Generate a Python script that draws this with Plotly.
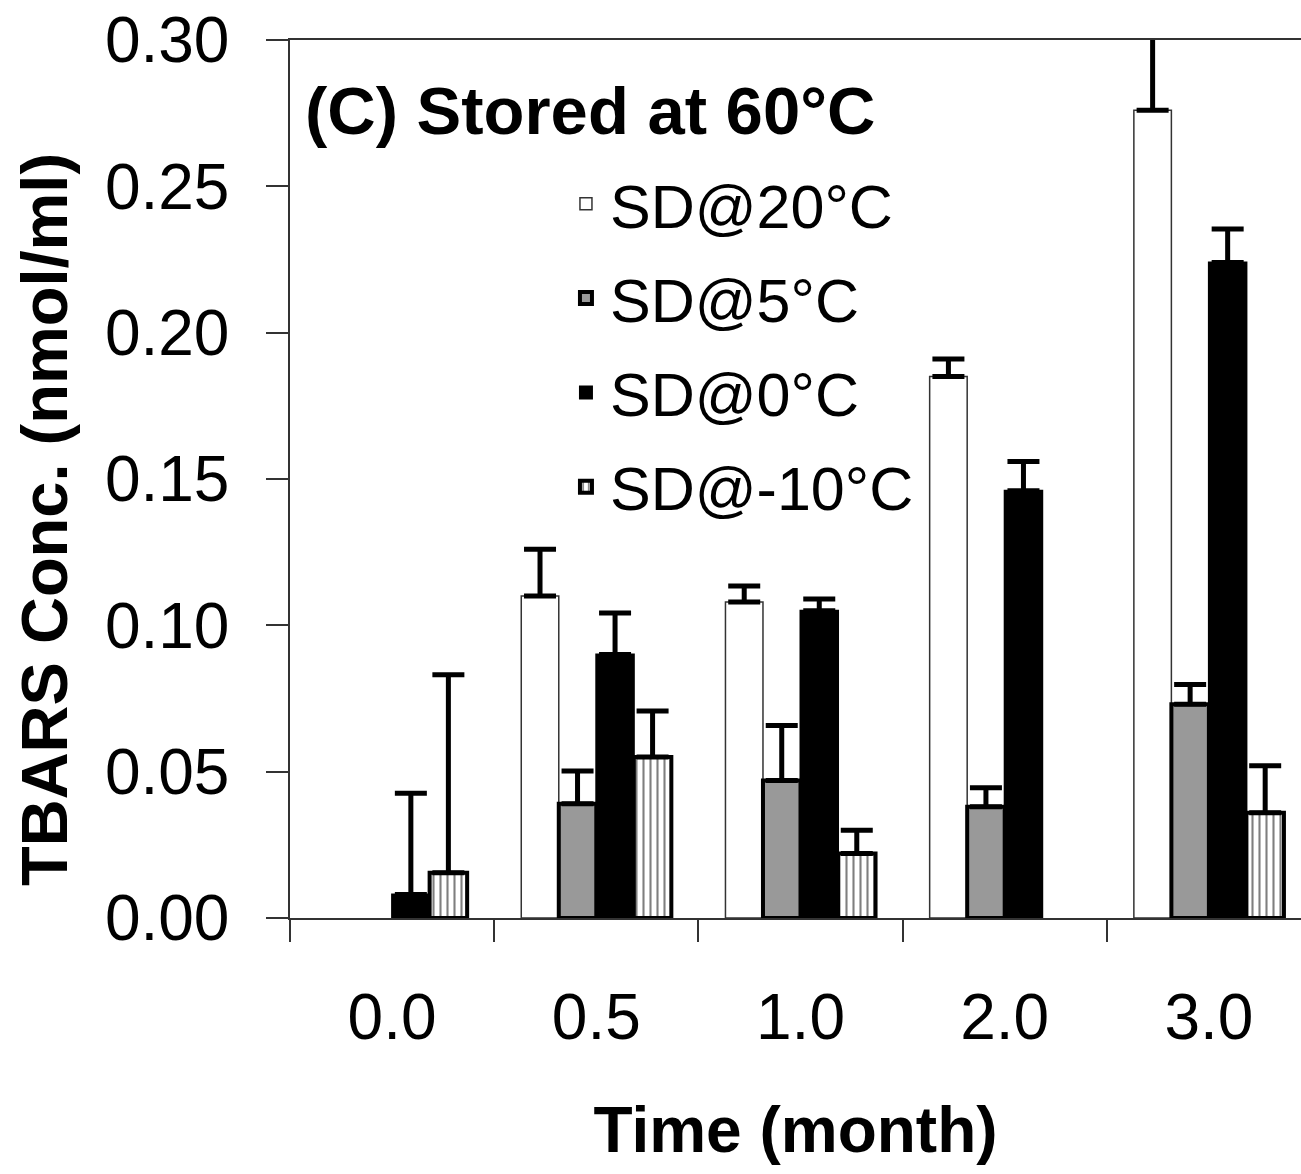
import plotly.graph_objects as go

# ---- data (None = no bar drawn) ----
months = ["0.0", "0.5", "1.0", "2.0", "3.0"]

sd20 = [None, 0.110, 0.108, 0.185, 0.276]
sd20_err = [None, 0.016, 0.0054, 0.006, 0.035]

sd5 = [None, 0.039, 0.047, 0.038, 0.073]
sd5_err = [None, 0.0112, 0.0188, 0.0065, 0.0068]

sd0 = [0.008, 0.090, 0.105, 0.146, 0.224]
sd0_err = [0.0346, 0.0142, 0.004, 0.010, 0.0114]

sdm10 = [0.0155, 0.055, 0.022, None, 0.036]
sdm10_err = [0.0676, 0.0157, 0.008, None, 0.016]

y_ticks = [0.00, 0.05, 0.10, 0.15, 0.20, 0.25, 0.30]

FONT = "Arial, Liberation Sans, sans-serif"


def err(arr):
    return dict(type="data", symmetric=False, array=arr,
                arrayminus=[0 if v is not None else None for v in arr],
                color="black", thickness=5, width=16)


fig = go.Figure()
fig.add_trace(go.Bar(name="SD@20°C", x=months, y=sd20, error_y=err(sd20_err),
                     marker=dict(color="white", line=dict(color="#333333", width=1.5)),
                     legendgroup="a"))
fig.add_trace(go.Bar(name="SD@5°C", x=months, y=sd5, error_y=err(sd5_err),
                     marker=dict(color="#999999", line=dict(color="black", width=4)),
                     legendgroup="b"))
fig.add_trace(go.Bar(name="SD@0°C", x=months, y=sd0, error_y=err(sd0_err),
                     marker=dict(color="black", line=dict(color="black", width=2)),
                     legendgroup="c"))
fig.add_trace(go.Bar(name="SD@-10°C", x=months, y=sdm10, error_y=err(sdm10_err),
                     marker=dict(color="white", line=dict(color="black", width=4),
                                 pattern=dict(shape="|", size=7, solidity=0.3,
                                              fgcolor="black", bgcolor="white")),
                     legendgroup="d"))

W, H = 1301, 1174
L, R, T, B = 290, 0, 40, 256
plot_w = W - L - R
cat_px = 204.2
x_hi = -0.5 + plot_w / cat_px

fig.update_layout(
    width=W, height=H,
    margin=dict(l=L, r=R, t=T, b=B),
    paper_bgcolor="white", plot_bgcolor="white",
    font=dict(family=FONT, color="black"),
    barmode="group", bargap=0.265, bargroupgap=0,
    showlegend=True,
    legend=dict(x=0.269, y=0.866, xanchor="left", yanchor="top",
                font=dict(family=FONT, size=61, color="black"),
                bgcolor="rgba(0,0,0,0)", tracegroupgap=12,
                itemwidth=38),
    xaxis=dict(
        type="category", range=[-0.5, x_hi],
        showline=True, linecolor="#333333", linewidth=1.5, mirror=True,
        ticks="outside", tickson="boundaries", ticklen=22, tickwidth=1.5,
        tickcolor="#333333", showgrid=False, zeroline=False,
        tickfont=dict(family=FONT, size=64, color="black"),
        ticklabelstandoff=42,
        title=dict(text="<b>Time (month)</b>", font=dict(family=FONT, size=64, color="black"),
                   standoff=56),
    ),
    yaxis=dict(
        range=[0, 0.30], tickvals=y_ticks, tickformat=".2f",
        showline=True, linecolor="#333333", linewidth=1.5,
        ticks="outside", ticklen=22, tickwidth=1.5, tickcolor="#333333",
        showgrid=False, zeroline=False,
        tickfont=dict(family=FONT, size=64, color="black"),
        ticklabelstandoff=24,
    ),
    annotations=[
        dict(text="<b>TBARS Conc. (nmol/ml)</b>", textangle=-90,
             xref="paper", yref="paper", x=(44 - L) / plot_w, y=(918 - 520) / 878,
             xanchor="center", yanchor="middle", showarrow=False,
             font=dict(family=FONT, size=65, color="black")),
        dict(text="<b>(C) Stored at 60°C</b>",
             xref="paper", yref="paper", x=(303 - L) / plot_w, y=(918 - 110) / 878,
             xanchor="left", yanchor="middle", showarrow=False,
             font=dict(family=FONT, size=67, color="black")),
    ],
)

fig.write_html("out.html")
